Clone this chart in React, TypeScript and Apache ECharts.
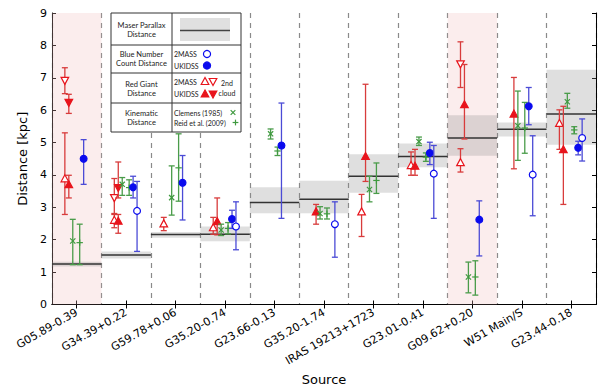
import { useEffect, useRef } from 'react';
import * as echarts from 'echarts';

// ---------- data ----------
const sources = [
  'G05.89-0.39', 'G34.39+0.22', 'G59.78+0.06', 'G35.20-0.74', 'G23.66-0.13',
  'G35.20-1.74', 'IRAS 19213+1723', 'G23.01-0.41', 'G09.62+0.20', 'W51 Main/S', 'G23.44-0.18',
];
const highlighted = ['G05.89-0.39', 'G09.62+0.20'];

const maserDist = [1.25, 1.53, 2.16, 2.17, 3.15, 3.25, 3.96, 4.57, 5.14, 5.41, 5.88];
const maserLow = [1.17, 1.42, 2.06, 1.95, 2.82, 2.82, 3.45, 4.24, 4.59, 5.19, 4.93];
const maserHigh = [1.32, 1.64, 2.24, 2.41, 3.62, 3.82, 4.64, 4.97, 5.84, 5.62, 7.25];

type Est = [number, number, number] | null; // [value, low, high]

// Red giant distances
const redGiant2mass: Est[] = [
  [3.88, 2.78, 5.30], [2.60, 2.37, 2.78], [2.49, 2.28, 2.69], [2.37, 2.17, 2.69], null,
  null, [2.86, 2.10, 3.40], [4.29, 3.99, 4.71], [4.38, 4.09, 4.81], null, [5.59, 4.79, 6.01],
];
const redGiantUkidss: Est[] = [
  [3.70, 3.29, 3.99], [2.57, 2.20, 2.78], null, [2.56, 2.15, 3.29], null,
  [2.86, 2.48, 3.09], [4.57, 3.80, 6.80], [4.27, 3.99, 4.79], [6.17, 5.11, 7.41], [5.88, 4.19, 7.01], [4.78, 3.09, 6.12],
];
const redGiant2mass2nd: Est[] = [
  [6.92, 6.51, 7.31], [3.30, 2.81, 3.89], null, null, null,
  null, null, null, [7.43, 6.70, 8.11], null, null,
];
const redGiantUkidss2nd: Est[] = [
  [6.24, 5.90, 6.49], [3.61, 3.29, 4.40], null, null, null,
  null, null, null, null, null, null,
];
// Blue number count distances
const blue2mass: Est[] = [
  null, [2.89, 1.64, 3.80], null, [2.41, 1.69, 3.17], null,
  [2.48, 1.46, 3.17], null, [4.04, 2.66, 4.91], null, [4.01, 2.74, 5.21], [5.14, 4.43, 5.73],
];
const blueUkidss: Est[] = [
  [4.50, 3.71, 5.09], [3.62, 3.29, 3.96], [3.76, 2.61, 4.60], [2.64, 2.35, 2.91], [4.91, 2.66, 6.22],
  null, null, [4.68, 4.32, 5.01], [2.62, 1.50, 3.20], [6.12, 5.55, 6.70], [4.84, 4.62, 5.04],
];
// Kinematic distances
const kinClemens: Est[] = [
  [1.96, 1.23, 2.63], [3.71, 3.37, 3.92], [3.30, 2.76, 4.28], [2.30, 2.13, 2.48], [5.27, 5.11, 5.42],
  [2.81, 2.64, 3.02], [3.55, 3.17, 3.96], [5.03, 4.91, 5.17], [0.85, 0.36, 1.31], [5.52, 4.45, 6.59], [6.26, 6.06, 6.52],
];
const kinReid: Est[] = [
  [1.91, 1.23, 2.48], [3.61, 3.37, 3.85], [4.22, 3.19, 5.27], [2.35, 2.18, 2.53], [4.74, 4.60, 4.86],
  [2.80, 2.64, 2.98], [3.83, 3.43, 4.37], [4.55, 4.42, 4.68], [0.85, 0.29, 1.35], [5.45, 4.67, 6.24], [5.39, 5.27, 5.49],
];

const yMin = 0;
const yMax = 9;
const yStep = 1;

// ---------- styling ----------
const RED = '#e8141c';
const RED_BAR = '#d83c3c';
const BLUE = '#0a0aee';
const BLUE_BAR = '#4b4bd6';
const GREEN = '#3f9a3f';
const GREEN_BAR = '#4a9c4a';
const FONT = 'DejaVu Sans';
const LFONT = 'Lato';

type Marker = 'triUp' | 'triDown' | 'circle' | 'x' | 'plus';

function markerShape(kind: Marker, filled: boolean, x: number, y: number, color: string, s = 1, z?: number) {
  const fill = filled ? color : '#fff';
  const st = { fill, stroke: color, lineWidth: 1.2 };
  const zz = z === undefined ? {} : { z };
  if (kind === 'circle') return { type: 'circle', ...zz, shape: { cx: x, cy: y, r: 3.4 * s }, style: st };
  if (kind === 'triUp')
    return { type: 'polygon', ...zz, shape: { points: [[x, y - 4 * s], [x - 3.8 * s, y + 3 * s], [x + 3.8 * s, y + 3 * s]] }, style: st };
  if (kind === 'triDown')
    return { type: 'polygon', ...zz, shape: { points: [[x, y + 4 * s], [x - 3.8 * s, y - 3 * s], [x + 3.8 * s, y - 3 * s]] }, style: st };
  if (kind === 'x') {
    const d = 2.6 * s;
    return {
      type: 'group',
      children: [
        { type: 'line', ...zz, shape: { x1: x - d, y1: y - d, x2: x + d, y2: y + d }, style: { stroke: color, lineWidth: 1.2 } },
        { type: 'line', ...zz, shape: { x1: x - d, y1: y + d, x2: x + d, y2: y - d }, style: { stroke: color, lineWidth: 1.2 } },
      ],
    };
  }
  const d = 3.2 * s;
  return {
    type: 'group',
    children: [
      { type: 'line', ...zz, shape: { x1: x - d, y1: y, x2: x + d, y2: y }, style: { stroke: color, lineWidth: 1.2 } },
      { type: 'line', ...zz, shape: { x1: x, y1: y - d, x2: x, y2: y + d }, style: { stroke: color, lineWidth: 1.2 } },
    ],
  };
}

function toData(arr: Est[]) {
  const out: number[][] = [];
  arr.forEach((e, i) => {
    if (e) out.push([i, e[0], e[1], e[2]]);
  });
  return out;
}

function estSeries(name: string, arr: Est[], offset: number, kind: Marker, filled: boolean, color: string, bar: string) {
  return {
    type: 'custom',
    name,
    z: 5,
    clip: false,
    data: toData(arr),
    encode: { x: 0, y: [1, 2, 3] },
    renderItem: (_params: any, api: any) => {
      const i = api.value(0);
      const c = api.coord([i, api.value(1)]);
      const lo = api.coord([i, api.value(2)])[1];
      const hi = api.coord([i, api.value(3)])[1];
      const bw = api.size([1, 0])[0];
      const x = c[0] + offset * bw;
      const y = c[1];
      const cap = 3;
      const ls = { stroke: bar, lineWidth: 1.3 };
      return {
        type: 'group',
        children: [
          { type: 'line', shape: { x1: x, y1: lo, x2: x, y2: hi }, style: ls },
          { type: 'line', shape: { x1: x - cap, y1: lo, x2: x + cap, y2: lo }, style: ls },
          { type: 'line', shape: { x1: x - cap, y1: hi, x2: x + cap, y2: hi }, style: ls },
          markerShape(kind, filled, x, y, color),
        ],
      };
    },
  };
}

function legendGraphics() {
  const L = 111, M = 172, R = 241, T = 13, B = 132;
  const rows = [45, 73, 103];
  const cx = (L + M) / 2;
  const txt = (text: string, x: number, y: number, align = 'center', size = 7.5) => ({
    type: 'text', x, y, z: 101,
    style: { text, fill: '#222', font: `${size}px ${LFONT}`, align, verticalAlign: 'middle' },
  });
  const els: any[] = [
    { type: 'rect', z: 100, shape: { x: L, y: T, width: R - L, height: B - T }, style: { fill: '#fff', stroke: '#333', lineWidth: 1 } },
    { type: 'line', z: 101, shape: { x1: M, y1: T, x2: M, y2: B }, style: { stroke: '#333', lineWidth: 1 } },
    ...rows.map((y) => ({ type: 'line', z: 101, shape: { x1: L, y1: y, x2: R, y2: y }, style: { stroke: '#333', lineWidth: 1 } })),
    { type: 'rect', z: 101, shape: { x: 180, y: 18, width: 50, height: 23 }, style: { fill: '#e0e0e0' } },
    { type: 'line', z: 102, shape: { x1: 180, y1: 30.5, x2: 230, y2: 30.5 }, style: { stroke: '#444', lineWidth: 1.3 } },
    txt('Maser Parallax', cx, 25.5), txt('Distance', cx, 34.5),
    txt('Blue Number', cx, 54.5), txt('Count Distance', cx, 63),
    txt('Red Giant', cx, 84), txt('Distance', cx, 93),
    txt('Kinematic', cx, 113.5), txt('Distance', cx, 122.5),
    txt('2MASS', 174, 54, 'left', 7), txt('UKIDSS', 174, 65.5, 'left', 7),
    txt('2MASS', 174, 81.5, 'left', 7), txt('UKIDSS', 174, 94, 'left', 7),
    txt('2nd', 227, 83, 'center', 7), txt('cloud', 227, 93, 'center', 7),
    txt('Clemens (1985)', 174, 112.5, 'left', 7), txt('Reid et al. (2009)', 174, 122.5, 'left', 7),
  ];
  els.push(markerShape('circle', false, 207, 54, BLUE, 1.05, 102));
  els.push(markerShape('circle', true, 207, 65.5, BLUE, 1.05, 102));
  els.push(markerShape('triUp', false, 205, 81.5, RED, 1.0, 102));
  els.push(markerShape('triDown', false, 213, 81.5, RED, 1.0, 102));
  els.push(markerShape('triUp', true, 205, 94, RED, 1.0, 102));
  els.push(markerShape('triDown', true, 213, 94, RED, 1.0, 102));
  els.push(markerShape('x', false, 233, 112.5, GREEN, 0.9, 102));
  els.push(markerShape('plus', false, 235.5, 122.5, GREEN, 0.9, 102));
  return els;
}

export default function App() {
  const ref = useRef<HTMLDivElement>(null);
  useEffect(() => {
    if (!ref.current) return;
    const chart = echarts.init(ref.current, undefined, { renderer: 'svg' });
    const axisLineStyle = { color: '#000', width: 1 };
    const option: any = {
      animation: false,
      backgroundColor: '#fff',
      grid: { left: 52, right: 4, top: 13, bottom: 85, containLabel: false },
      xAxis: [
        {
          type: 'category',
          data: sources,
          position: 'bottom',
          boundaryGap: true,
          axisLine: { show: true, lineStyle: axisLineStyle },
          axisTick: { show: true, inside: true, alignWithLabel: true, interval: 0, length: 4, lineStyle: axisLineStyle },
          axisLabel: { rotate: 30, interval: 0, fontSize: 11, color: '#000', fontFamily: FONT, margin: 7 },
          splitLine: { show: true, interval: 0, lineStyle: { color: '#8a8a8a', type: [5, 5], width: 1.2 } },
          name: 'Source',
          nameLocation: 'middle',
          nameGap: 68,
          nameTextStyle: { fontSize: 13, fontFamily: FONT, color: '#000' },
        },
        {
          type: 'category',
          data: sources,
          position: 'top',
          boundaryGap: true,
          axisLine: { show: true, lineStyle: axisLineStyle },
          axisTick: { show: true, inside: true, alignWithLabel: true, interval: 0, length: 4, lineStyle: axisLineStyle },
          axisLabel: { show: false },
          splitLine: { show: false },
        },
      ],
      yAxis: [
        {
          type: 'value',
          min: yMin,
          max: yMax,
          interval: yStep,
          position: 'left',
          axisLine: { show: true, lineStyle: axisLineStyle },
          axisTick: { show: true, inside: true, length: 4, lineStyle: axisLineStyle },
          axisLabel: { fontSize: 11, color: '#000', fontFamily: FONT, margin: 5 },
          splitLine: { show: false },
          name: 'Distance [kpc]',
          nameLocation: 'middle',
          nameGap: 8.5,
          nameTextStyle: { fontSize: 13, fontFamily: FONT, color: '#000' },
        },
        {
          type: 'value',
          min: yMin,
          max: yMax,
          interval: yStep,
          position: 'right',
          axisLine: { show: true, lineStyle: axisLineStyle },
          axisTick: { show: true, inside: true, length: 4, lineStyle: axisLineStyle },
          axisLabel: { show: false },
          splitLine: { show: false },
        },
      ],
      series: [
        {
          type: 'custom',
          name: 'highlight',
          z: 1,
          data: highlighted.map((s) => [sources.indexOf(s), yMin]),
          encode: { x: 0, y: 1 },
          renderItem: (params: any, api: any) => {
            const c = api.coord([api.value(0), api.value(1)]);
            const bw = api.size([1, 0])[0];
            const cs = params.coordSys;
            return {
              type: 'rect',
              shape: { x: c[0] - bw / 2, y: cs.y, width: bw, height: cs.height },
              style: { fill: 'rgba(240,190,190,0.28)' },
            };
          },
        },
        {
          type: 'custom',
          name: 'Maser Parallax Distance',
          z: 3,
          data: maserDist.map((v, i) => [i, v, maserLow[i], maserHigh[i]]),
          encode: { x: 0, y: [1, 2, 3] },
          renderItem: (_params: any, api: any) => {
            const i = api.value(0);
            const c = api.coord([i, api.value(1)]);
            const lo = api.coord([i, api.value(2)])[1];
            const hi = api.coord([i, api.value(3)])[1];
            const bw = api.size([1, 0])[0];
            return {
              type: 'group',
              children: [
                { type: 'rect', shape: { x: c[0] - bw / 2, y: hi, width: bw, height: lo - hi }, style: { fill: 'rgba(140,140,140,0.28)' } },
                { type: 'line', shape: { x1: c[0] - bw / 2, y1: c[1], x2: c[0] + bw / 2, y2: c[1] }, style: { stroke: '#333', lineWidth: 1.5 } },
              ],
            };
          },
        },
        estSeries('Red Giant 2MASS', redGiant2mass, -0.24, 'triUp', false, RED, RED_BAR),
        estSeries('Red Giant 2MASS 2nd cloud', redGiant2mass2nd, -0.24, 'triDown', false, RED, RED_BAR),
        estSeries('Red Giant UKIDSS', redGiantUkidss, -0.16, 'triUp', true, RED, RED_BAR),
        estSeries('Red Giant UKIDSS 2nd cloud', redGiantUkidss2nd, -0.16, 'triDown', true, RED, RED_BAR),
        estSeries('Clemens (1985)', kinClemens, -0.08, 'x', false, GREEN, GREEN_BAR),
        estSeries('Reid et al. (2009)', kinReid, 0.06, 'plus', false, GREEN, GREEN_BAR),
        estSeries('Blue Number Count UKIDSS', blueUkidss, 0.14, 'circle', true, BLUE, BLUE_BAR),
        estSeries('Blue Number Count 2MASS', blue2mass, 0.22, 'circle', false, BLUE, BLUE_BAR),
      ],
      graphic: { elements: legendGraphics() },
    };
    chart.setOption(option);
    return () => chart.dispose();
  }, []);
  return <div ref={ref} style={{ position: 'fixed', left: 0, top: 0, width: 600, height: 391 }} />;
}
